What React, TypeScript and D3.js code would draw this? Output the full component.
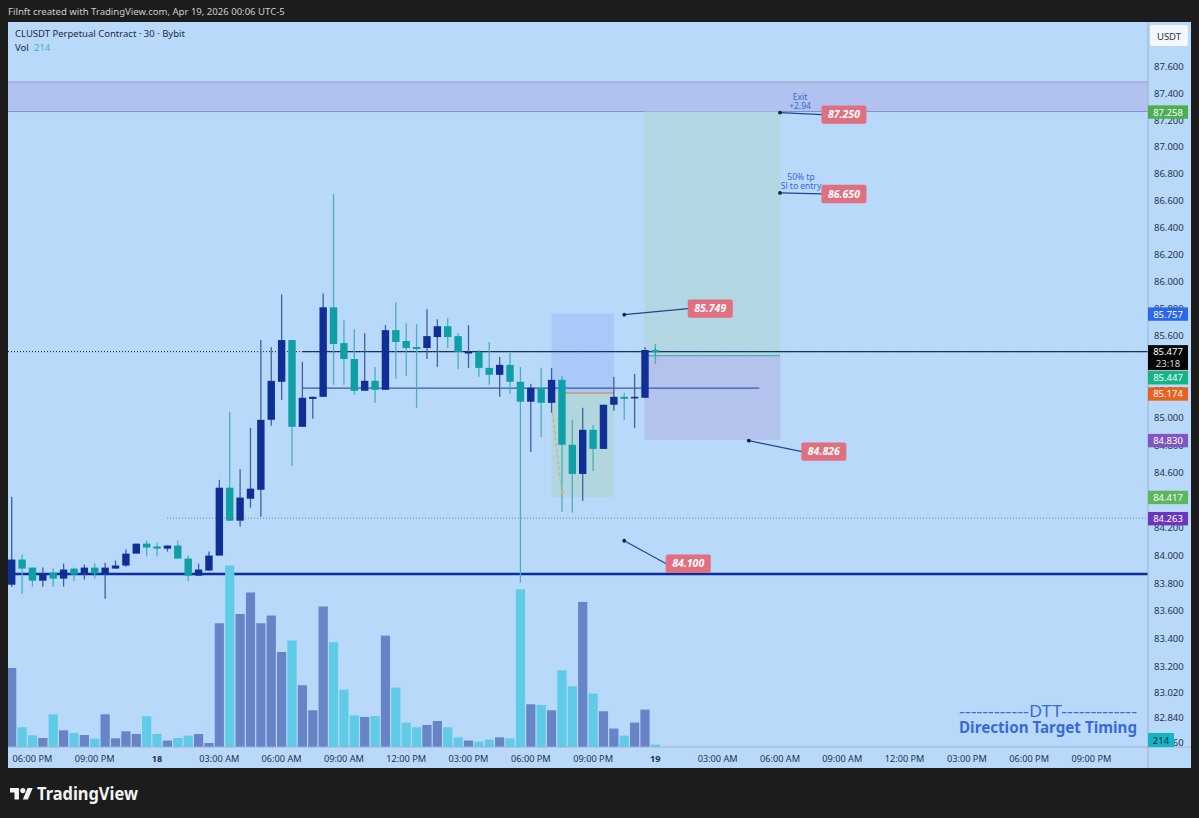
import React from "react";
import * as d3 from "d3";

// ---------- data ----------
const opens = [83.783,83.964,83.906,83.812,83.870,83.827,83.899,83.863,83.906,83.863,83.899,83.921,84.007,84.079,84.058,84.043,84.065,83.971,83.848,83.885,83.993,84.484,84.245,84.404,84.469,84.978,85.256,85.562,84.927,85.131,85.146,85.803,85.540,85.423,85.190,85.263,85.197,85.635,85.555,85.511,85.504,85.584,85.664,85.591,85.467,85.475,85.358,85.307,85.380,85.256,85.110,85.212,85.102,85.270,84.796,84.584,84.905,84.766,85.088,85.146,85.139,85.139,85.489];
const highs = [84.419,84.000,83.906,83.906,83.899,83.935,83.906,83.928,83.935,83.942,83.957,84.036,84.079,84.101,84.087,84.065,84.101,83.993,83.935,84.022,84.542,85.036,84.620,84.920,85.562,85.511,85.898,85.562,85.402,85.146,85.905,86.642,85.708,85.642,85.613,85.365,85.672,85.840,85.686,85.679,85.788,85.715,85.723,85.613,85.672,85.489,85.548,85.438,85.467,85.365,85.241,85.358,85.358,85.299,84.978,85.066,84.942,85.088,85.292,85.175,85.314,85.511,85.533];
const lows = [83.769,83.718,83.769,83.769,83.769,83.769,83.812,83.820,83.827,83.682,83.899,83.913,84.007,83.986,83.986,84.022,83.971,83.812,83.848,83.885,83.993,84.245,84.202,84.339,84.274,84.934,85.124,84.642,84.927,84.985,85.146,85.234,85.234,85.161,85.190,85.102,85.197,85.277,85.299,85.066,85.423,85.365,85.504,85.350,85.358,85.292,85.234,85.146,85.168,83.798,84.744,84.854,85.029,84.310,84.303,84.390,84.606,84.766,85.044,84.978,84.920,85.139,85.387];
const closes = [83.964,83.899,83.812,83.863,83.827,83.892,83.856,83.906,83.863,83.906,83.921,84.007,84.079,84.051,84.043,84.065,83.971,83.848,83.892,83.993,84.484,84.245,84.412,84.477,84.978,85.263,85.562,84.927,85.139,85.146,85.803,85.533,85.423,85.190,85.263,85.197,85.635,85.548,85.504,85.496,85.591,85.664,85.584,85.475,85.475,85.358,85.307,85.380,85.256,85.110,85.212,85.102,85.270,84.796,84.584,84.905,84.766,85.088,85.146,85.131,85.146,85.489,85.477];
const volumes = [7015,1750,1040,800,2900,1480,1240,1065,745,2900,770,1395,1155,2725,1155,570,800,1010,1155,355,10985,16110,11810,13710,10985,11670,8435,9450,5480,3260,12470,9300,5100,2815,2665,2750,9890,5275,2165,1750,1955,2310,1750,860,570,480,655,860,770,14005,3790,3730,3260,6810,5390,12875,4740,3170,1635,1010,2165,3320,214];

const priceTicks = [87.6,87.4,87.2,87,86.8,86.6,86.4,86.2,86,85.8,85.6,85.4,85.2,85,84.8,84.6,84.4,84.2,84,83.8,83.6,83.4,83.2,83.02,82.84,82.66];
const timeTicks: [number, string, boolean][] = [[2,"06:00 PM",false],[8,"09:00 PM",false],[14,"18",true],[20,"03:00 AM",false],[26,"06:00 AM",false],[32,"09:00 AM",false],[38,"12:00 PM",false],[44,"03:00 PM",false],[50,"06:00 PM",false],[56,"09:00 PM",false],[62,"19",true],[68,"03:00 AM",false],[74,"06:00 AM",false],[80,"09:00 AM",false],[86,"12:00 PM",false],[92,"03:00 PM",false],[98,"06:00 PM",false],[104,"09:00 PM",false]];
// price, text, colour, how far the tag was pushed to avoid its neighbour
const priceTags: [number, string, string, number][] = [[87.258,"87.258","#4cae50",0.5],[85.757,"85.757","#2b66ee",0.5],[85.447,"85.447","#13b585",22],[85.174,"85.174","#e8621e",1],[84.83,"84.830","#7f55c0",0.5],[84.417,"84.417","#5cb65c",0.5],[84.263,"84.263","#6b35bd",0.5]];
// price, bar index of the dot, label offset from the dot
const callouts: [number, number, number, number][] = [[85.749,59,86,-6],[84.826,71,75,11],[84.1,59,64,23],[87.25,74,64,2],[86.65,74,64,1]];

// ---------- layout ----------
const W = 1199, H = 818;
const L = 8, T = 22, PR = 1148, R = 1191, B = 768, TB = 747;
const FONT = "'Noto Sans', 'Open Sans', sans-serif";
const UP = "#0f2f97", DOWN = "#0f9fa6", UPW = "#41609f", DOWNW = "#4aafbd";
const AXIS_SIZE = 9.5;

const y = d3.scaleLog().domain([87.6, 83.2]).range([66, 666]);
const x = d3.scaleLinear().domain([0, 61]).range([11.7, 645]);
const v = d3.scaleLinear().domain([0, 16110]).range([TB, 565.5]);

const fmt = d3.format(".3f");

export default function App() {
  return (
    <svg width={W} height={H} viewBox={`0 0 ${W} ${H}`} style={{ position: "absolute", left: 0, top: 0, display: "block" }} fontFamily={FONT}>
      <defs>
        <clipPath id="plot"><rect x={L} y={T} width={PR - L} height={TB - T} /></clipPath>
      </defs>
      <rect width={W} height={H} fill="#1c1c1c" />
      <text x={8} y={15} fontSize={9.55} fill="#cdcdcd">Filnft created with TradingView.com, Apr 19, 2026 00:06 UTC-5</text>
      <rect x={L} y={T} width={R - L} height={B - T} fill="#b9d9fb" />

      <g clipPath="url(#plot)">
        {/* zone */}
        <rect x={L} y={y(87.48)} width={PR - L} height={y(87.258) - y(87.48)} fill="#b2c2f0" />
        <line x1={L} x2={PR} y1={y(87.48)} y2={y(87.48)} stroke="#8fa3c9" strokeWidth={1} />
        <line x1={L} x2={PR} y1={y(87.258)} y2={y(87.258)} stroke="#7d93c8" strokeWidth={1} />

        {/* position tools */}
        <rect x={x(60.95)} y={y(87.258)} width={x(74.05) - x(60.95)} height={y(85.447) - y(87.258)} fill="#b2d7e2" />
        <rect x={x(60.95)} y={y(85.447)} width={x(74.05) - x(60.95)} height={y(84.83) - y(85.447)} fill="#b4c3ed" />
        <rect x={x(52)} y={y(85.757)} width={x(58) - x(52)} height={y(85.174) - y(85.757)} fill="#a9caf9" />
        <rect x={x(52)} y={y(85.174)} width={x(58) - x(52)} height={y(84.417) - y(85.174)} fill="#b1d6de" />
        <line x1={x(53)} x2={x(58)} y1={y(85.174)} y2={y(85.174)} stroke="#c6a294" strokeWidth={2} />
        <line x1={x(61.2)} x2={x(74)} y1={y(85.447)} y2={y(85.447)} stroke="#2fa8a0" strokeWidth={1} />

        {/* horizontal levels */}
        <line x1={x(28)} x2={PR} y1={y(85.477)} y2={y(85.477)} stroke="#24396e" strokeWidth={1.3} />
        <line x1={L} x2={PR} y1={y(85.477)} y2={y(85.477)} stroke="#141c2a" strokeWidth={1} strokeDasharray="1 2" />
        <line x1={x(28)} x2={x(72)} y1={y(85.21)} y2={y(85.21)} stroke="#3a58a6" strokeWidth={1.2} />
        <line x1={167} x2={PR} y1={y(84.263)} y2={y(84.263)} stroke="#6f86a6" strokeWidth={1} strokeDasharray="1 2" />
        <line x1={L} x2={PR} y1={y(83.86)} y2={y(83.86)} stroke="#0b2d9e" strokeWidth={2.4} />

        {/* volume */}
        {volumes.map((val, i) => (
          <rect key={i} x={x(i) - 4.6} y={v(val)} width={9.2} height={TB - v(val)} fill={closes[i] >= opens[i] ? "#6684c6" : "#5fcbe6"} />
        ))}

        {/* candles */}
        {opens.map((o, i) => {
          const c = closes[i];
          const up = c >= o;
          const top = y(Math.max(o, c));
          const bot = y(Math.min(o, c));
          return (
            <g key={i}>
              <line x1={x(i)} x2={x(i)} y1={y(highs[i])} y2={y(lows[i])} stroke={up ? UPW : DOWNW} strokeWidth={1.3} />
              <rect x={x(i) - 3.7} y={top} width={7.4} height={Math.max(bot - top, 1.6)} fill={up ? UP : DOWN} />
            </g>
          );
        })}

        {/* dashed path */}
        <line x1={x(52.1)} y1={y(85.03)} x2={x(53)} y2={y(84.43)} stroke="#c8b78c" strokeWidth={1.5} strokeDasharray="4 2" />
        <path d={`M${x(53) - 3} ${y(84.43) - 3}L${x(53)} ${y(84.43)}L${x(53) + 3} ${y(84.43) - 4}`} fill="none" stroke="#c8b78c" strokeWidth={1} />
        <path d={`M${x(62) - 4} ${y(85.477)}H${x(62) + 4}M${x(62)} ${y(85.477) - 4}V${y(85.477) + 4}`} stroke="#14a3a8" strokeWidth={1} />
      </g>

      {/* callouts */}
      {callouts.map(([p, i, dx, dy]) => {
        const px = x(i), py = y(p);
        const cx = px + dx, cy = py + dy;
        return (
          <g key={p}>
            <line x1={px} y1={py} x2={cx - 22} y2={cy} stroke="#1f4590" strokeWidth={1.2} />
            <circle cx={px} cy={py} r={1.9} fill="#10244f" />
            <rect x={cx - 22.5} y={cy - 9.2} width={45} height={18.4} rx={2} fill="#e06f7f" />
            <text x={cx} y={cy + 3.6} fontSize={10.5} fontWeight={700} fontStyle="italic" fill="#fff" textAnchor="middle">{fmt(p)}</text>
          </g>
        );
      })}
      <g fontSize={8.5} fill="#3168dc" textAnchor="middle">
        <text x={800} y={100}>Exit</text>
        <text x={800} y={109}>+2.94</text>
        <text x={801} y={180}>50% tp</text>
        <text x={801} y={189}>Sl to entry</text>
      </g>

      {/* legend */}
      <text x={15} y={37} fontSize={9.5} fill="#1b2b44">CLUSDT Perpetual Contract · 30 · Bybit</text>
      <text x={15} y={51} fontSize={9.5} fill="#1b2b44">Vol</text>
      <text x={34} y={51} fontSize={9.5} fill="#35b4cf">214</text>

      {/* watermark */}
      <text x={1137} y={717} fontSize={17} fill="#3a6ad8" textAnchor="end" textLength={178} lengthAdjust="spacingAndGlyphs">------------DTT-------------</text>
      <text x={1137} y={733} fontSize={15.5} fontWeight={700} fill="#3a6ad8" textAnchor="end" textLength={178} lengthAdjust="spacingAndGlyphs">Direction Target Timing</text>

      {/* axes */}
      <line x1={L} x2={R} y1={TB} y2={TB} stroke="#9db1c9" strokeWidth={1} />
      <line x1={PR} x2={PR} y1={T} y2={B} stroke="#9db1c9" strokeWidth={1} />
      {priceTicks.map((p) => (
        <text key={p} x={1154} y={y(p) + 4.3} fontSize={AXIS_SIZE} fill="#24344c">{fmt(p)}</text>
      ))}
      {timeTicks.map(([i, s, bold]) => (
        <text key={i} x={x(i)} y={762} fontSize={9.2} fontWeight={bold ? 700 : 400} fill="#24344c" textAnchor="middle">{s}</text>
      ))}
      <rect x={1150} y={25} width={38} height={21} rx={2} fill="#f4f7fb" />
      <text x={1169} y={39.5} fontSize={9.5} fill="#2a3443" textAnchor="middle">USDT</text>

      {priceTags.map(([p, s, col, off]) => (
        <g key={s}>
          <rect x={PR} y={y(p) + off - 6.7} width={40} height={13.4} fill={col} />
          <text x={1168} y={y(p) + off + 3.5} fontSize={AXIS_SIZE} fill="#fff" textAnchor="middle">{s}</text>
        </g>
      ))}
      <rect x={PR} y={y(85.477) - 6.5} width={40} height={25} fill="#050505" />
      <text x={1168} y={y(85.477) + 3.8} fontSize={AXIS_SIZE} fill="#fff" textAnchor="middle">85.477</text>
      <text x={1168} y={y(85.477) + 15.5} fontSize={AXIS_SIZE} fill="#d8d8d8" textAnchor="middle">23:18</text>
      <rect x={PR} y={733} width={26} height={14} fill="#16b3c6" />
      <text x={1161} y={744} fontSize={AXIS_SIZE} fill="#12303a" textAnchor="middle">214</text>

      {/* brand */}
      <g transform="translate(10 785.5) scale(0.64)" fill="#f2f2f2">
        <path d="M14 22H7V11H0V4h14v18zM28 22h-8l7.5-18h8L28 22z" />
        <circle cx={20} cy={8} r={4} />
      </g>
      <text x={37} y={799.5} fontSize={17} fontWeight={700} fill="#f2f2f2" textLength={101} lengthAdjust="spacingAndGlyphs">TradingView</text>
    </svg>
  );
}
